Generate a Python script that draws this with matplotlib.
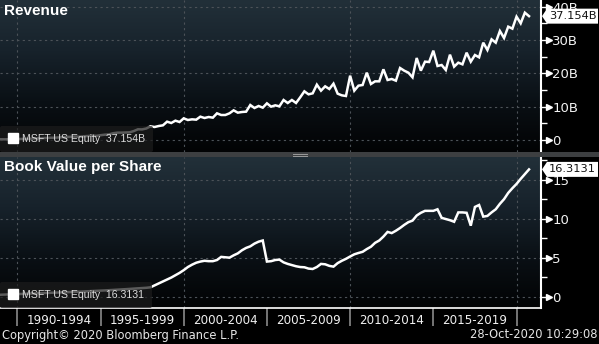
import numpy as np
import matplotlib
matplotlib.use("Agg")
import matplotlib.pyplot as plt
from matplotlib.lines import Line2D
from matplotlib.patches import Polygon, Rectangle
from matplotlib.transforms import IdentityTransform
from matplotlib.ticker import FixedLocator, FuncFormatter, MultipleLocator
from matplotlib.colors import LinearSegmentedColormap

# ---------------- data (quarterly, Dec-1988 .. Sep-2020) ----------------
first_quarter = (1988, 4)
revenue_b = [
    0.22,
    0.20, 0.24, 0.25, 0.29,   # 1989
    0.30, 0.34, 0.39, 0.43,   # 1990
    0.47, 0.55, 0.62, 0.68,   # 1991
    0.68, 0.78, 0.82, 0.93,   # 1992
    0.96, 1.04, 0.98, 1.13,   # 1993
    1.20, 1.34, 1.25, 1.44,   # 1994
    1.59, 1.67, 2.02, 2.20,   # 1995
    2.21, 2.26, 2.30, 2.68,   # 1996
    3.21, 3.18, 3.45, 4.10,   # 1997
    3.90, 4.20, 4.40, 5.50,   # 1998
    5.10, 5.80, 5.40, 6.50,   # 1999
    6.00, 6.20, 6.10, 7.00,   # 2000
    6.60, 6.90, 6.70, 8.00,   # 2001
    7.50, 7.50, 8.00, 8.90,   # 2002
    8.20, 8.40, 8.50, 10.50,  # 2003
    9.60, 10.20, 9.70, 11.00, # 2004
    10.00, 10.40, 10.10, 12.00,  # 2005
    11.10, 12.00, 11.10, 12.80,  # 2006
    14.60, 13.70, 14.00, 16.60,  # 2007
    14.80, 16.10, 15.30, 16.90,  # 2008
    13.90, 13.40, 13.20, 19.30,  # 2009
    14.80, 16.30, 16.50, 20.20,  # 2010
    16.80, 17.60, 17.60, 21.20,  # 2011
    18.00, 18.30, 17.80, 21.60,  # 2012
    20.80, 20.20, 18.80, 24.60,  # 2013
    20.80, 23.50, 23.40, 26.80,  # 2014
    22.20, 22.50, 21.00, 25.60,  # 2015
    22.00, 23.20, 22.70, 26.20,  # 2016
    23.50, 25.50, 24.80, 29.20,  # 2017
    27.00, 30.20, 29.20, 32.70,  # 2018
    30.60, 34.00, 33.40, 37.00,  # 2019
    35.00, 38.20, 37.154,        # 2020
]
book_value_ps = [
    0.25,
    0.27, 0.28, 0.30, 0.33,   # 1989
    0.35, 0.36, 0.39, 0.41,   # 1990
    0.43, 0.45, 0.48, 0.49,   # 1991
    0.51, 0.54, 0.55, 0.58,   # 1992
    0.60, 0.63, 0.64, 0.67,   # 1993
    0.70, 0.72, 0.75, 0.77,   # 1994
    0.80, 0.83, 0.86, 0.90,   # 1995
    0.93, 0.96, 1.00, 1.04,   # 1996
    1.07, 1.10, 1.14, 1.20,   # 1997
    1.45, 1.70, 1.95, 2.20,   # 1998
    2.45, 2.75, 3.05, 3.40,   # 1999
    3.80, 4.10, 4.35, 4.50,   # 2000
    4.60, 4.55, 4.55, 4.70,   # 2001
    5.10, 5.05, 5.00, 5.30,   # 2002
    5.55, 5.95, 6.25, 6.45,   # 2003
    6.80, 7.05, 7.20, 4.50,   # 2004
    4.55, 4.70, 4.75, 4.40,   # 2005
    4.20, 4.05, 3.90, 3.80,   # 2006
    3.77, 3.60, 3.55, 3.80,   # 2007
    4.20, 4.15, 3.95, 3.85,   # 2008
    4.30, 4.60, 4.85, 5.15,   # 2009
    5.43, 5.60, 5.75, 6.10,   # 2010
    6.40, 6.90, 7.20, 7.70,   # 2011
    8.30, 8.15, 8.45, 8.80,   # 2012
    9.20, 9.55, 9.75, 10.40,  # 2013
    10.75, 11.00, 11.00, 11.00,  # 2014
    11.20, 10.10, 9.95, 9.80,    # 2015
    9.60, 10.80, 10.80, 10.75,   # 2016
    9.10, 11.50, 11.75, 10.26,   # 2017
    10.35, 10.80, 11.20, 11.90,  # 2018
    12.50, 13.30, 13.90, 14.45,  # 2019
    15.10, 15.70, 16.3131,       # 2020
]
security = "MSFT US Equity"
rev_last_label = "37.154B"
bvps_last_label = "16.3131"
period_labels = ["1990-1994", "1995-1999", "2000-2004", "2005-2009",
                 "2010-2014", "2015-2019"]
period_starts = [1990, 1995, 2000, 2005, 2010, 2015, 2020]
rev_ticks = [0, 10, 20, 30, 40]
bvps_ticks = [0, 5, 10, 15]

# x position: quarter end as decimal year
n = len(revenue_b)
q_index = np.arange(n)
x = first_quarter[0] + first_quarter[1] * 0.25 + q_index * 0.25

# ---------------- figure ----------------
W, H = 599, 344
fig = plt.figure(figsize=(W / 100, H / 100), dpi=100, facecolor="black")

XL = (1988.96, 2021.47)
ax1 = fig.add_axes([0, (H - 152) / H, 541 / W, 152 / H])
ax2 = fig.add_axes([0, (H - 308) / H, 541 / W, 151 / H])

grad = np.linspace(0, 1, 256).reshape(-1, 1)
bgcmap = LinearSegmentedColormap.from_list(
    "bg", ["#020304", "#0a1015", "#17222b", "#223039"])


def style_axis(ax, ylim, ticks, fmt, minor_step):
    ax.set_facecolor("black")
    ax.imshow(grad, extent=[0, 1, 0, 1], transform=ax.transAxes, aspect="auto",
              cmap=bgcmap, origin="lower", zorder=0, interpolation="bilinear")
    ax.set_xlim(*XL)
    ax.set_ylim(*ylim)
    for s in ["top", "left"]:
        ax.spines[s].set_visible(False)
    ax.spines["right"].set_color("white")
    ax.spines["right"].set_linewidth(1.5)
    ax.yaxis.tick_right()
    ax.yaxis.set_major_locator(FixedLocator(ticks))
    ax.yaxis.set_minor_locator(MultipleLocator(minor_step))
    ax.yaxis.set_major_formatter(FuncFormatter(fmt))
    ax.tick_params(axis="y", which="major", colors="white", length=6, width=1,
                   pad=2, labelsize=9.5, labelcolor="#f2f2f2")
    ax.tick_params(axis="y", which="minor", colors="white", length=4, width=1)
    for t in ticks:
        ax.axhline(t, color="#4c5258", lw=0.8, ls=(0, (2, 3)), zorder=1)
    for d in period_starts[::2]:
        ax.axvline(d, color="#4c5258", lw=0.8, ls=(0, (2, 3)), zorder=1)
    # arrow-shaped tick heads
    ax.plot([1.0 + 8 / 541] * len(ticks), ticks, linestyle="none", marker=">",
            markersize=4.5, color="white", transform=ax.get_yaxis_transform(),
            clip_on=False, zorder=4)


style_axis(ax1, (-3.6, 42.0), rev_ticks,
           lambda v, p: "0" if v == 0 else f"{int(v)}B", 5)
style_axis(ax2, (-1.45, 17.9), bvps_ticks, lambda v, p: f"{int(v)}", 2.5)

ax1.set_xticks([])
ax1.spines["bottom"].set_visible(False)
ax2.spines["bottom"].set_color("white")
ax2.spines["bottom"].set_linewidth(1.2)

# x axis: separators + period labels
ax2.xaxis.set_major_locator(FixedLocator(period_starts))
ax2.xaxis.set_major_formatter(FuncFormatter(lambda v, p: ""))
ax2.xaxis.set_minor_locator(FixedLocator([s + 2.5 for s in period_starts[:-1]]))
ax2.xaxis.set_minor_formatter(FuncFormatter(
    lambda v, p: period_labels[int(round((v - 1992.5) / 5))]))
ax2.tick_params(axis="x", which="major", colors="#8a8a8a", length=13, width=1.2)
ax2.tick_params(axis="x", which="minor", length=0, pad=4.5, labelsize=8.6,
                labelcolor="#f0f0f0")

# lines
ax1.plot(x, revenue_b, color="white", lw=1.8, zorder=3, solid_joinstyle="miter")
ax2.plot(x, book_value_ps, color="white", lw=1.8, zorder=3, solid_joinstyle="miter")

# titles
title_font = dict(family="Liberation Sans", weight="bold", size=11, color="white")
ax1.text(0.008, 1 - 11 / 152, "Revenue", transform=ax1.transAxes, va="center",
         zorder=6, **title_font)
ax2.text(0.008, 1 - 10 / 151, "Book Value per Share", transform=ax2.transAxes,
         va="center", zorder=6, **title_font)

# legends
leg_font = dict(family="Liberation Sans", size=7.6)
for ax, lab in [(ax1, rev_last_label), (ax2, bvps_last_label)]:
    h = Line2D([], [], linestyle="none", marker="s", markersize=7.2,
               markerfacecolor="white", markeredgecolor="white")
    leg = ax.legend([h], [f"{security}  {lab}"], loc="lower left",
                    bbox_to_anchor=(0, 0), borderaxespad=0, frameon=True,
                    fancybox=True, facecolor="#1c1c1c", edgecolor="none",
                    framealpha=0.72, handlelength=0.9, handletextpad=0.45,
                    borderpad=0.75, prop=leg_font, labelcolor="#dcdcdc")
    leg.set_zorder(5)


# last-value boxes on the right axis
def value_box(ax, val, text):
    px, py = ax.transData.transform((XL[1], val))
    hh = 7.5
    verts = [(px + 1, py), (px + 6, py + hh), (W - 1, py + hh),
             (W - 1, py - hh), (px + 6, py - hh)]
    fig.add_artist(Polygon(verts, closed=True, facecolor="white",
                           edgecolor="none", transform=IdentityTransform(),
                           zorder=10))
    fig.text((px + 8) / W, py / H, text, ha="left", va="center",
             color="#101010", fontsize=8.2, family="DejaVu Sans", zorder=11)


value_box(ax1, revenue_b[-1], rev_last_label)
value_box(ax2, book_value_ps[-1], bvps_last_label)

# splitter bar between panels
fig.add_artist(Rectangle((0, (H - 157) / H), 1, 5 / H, transform=fig.transFigure,
                         facecolor="#3d3f41", edgecolor="none", zorder=8))
for yy in (153.5, 155.5):
    fig.add_artist(Line2D([293 / W, 307 / W], [(H - yy) / H] * 2,
                          transform=fig.transFigure, color="#9a9a9a", lw=0.7,
                          zorder=9))

# footer
fig.text(2 / W, (H - 335) / H, "Copyright\u00a9 2020 Bloomberg Finance L.P.",
         color="#e6e6e6", fontsize=8.3, family="DejaVu Sans", va="center")
fig.text(597 / W, (H - 335) / H, "28-Oct-2020 10:29:08", color="#e6e6e6",
         fontsize=8.3, family="DejaVu Sans", va="center", ha="right")

fig.savefig("out.png", dpi=100, facecolor="black")
